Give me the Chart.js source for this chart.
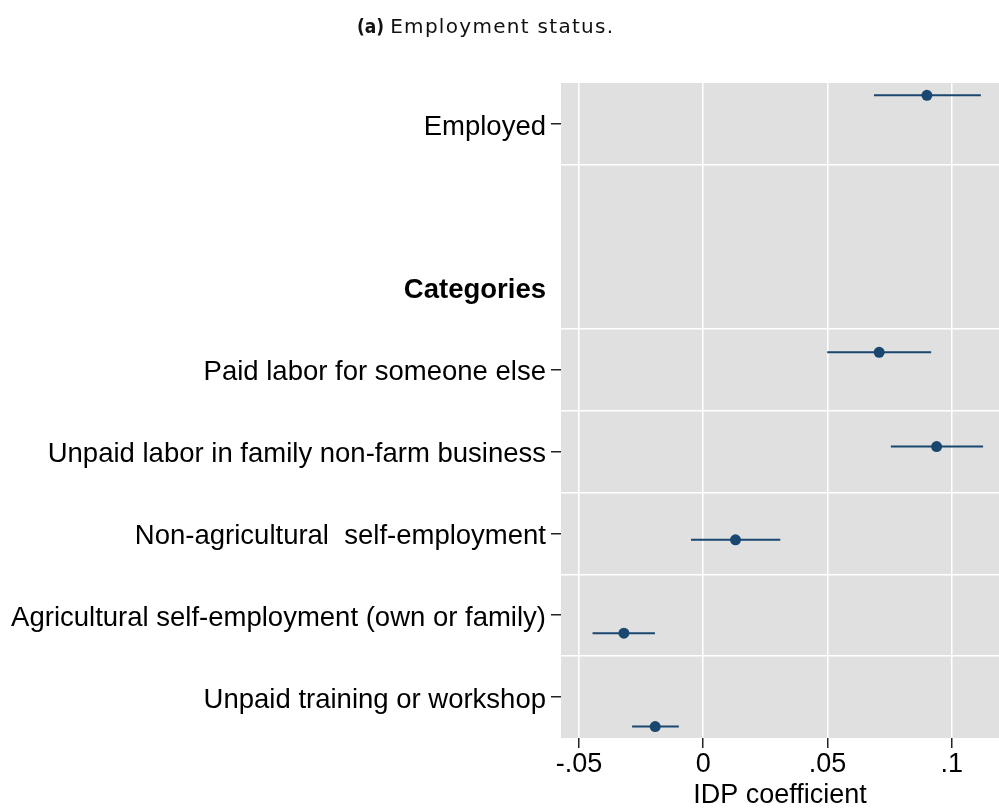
<!DOCTYPE html>
<html>
<head>
<meta charset="utf-8">
<script src="https://cdn.jsdelivr.net/npm/chart.js@4.4.1/dist/chart.umd.min.js"></script>
<style>
  body { margin: 0; background: #fff; overflow: hidden; }
  #wrap { position: relative; width: 999px; height: 809px; }
  #myChart { display: block; }
  #caption {
    position: absolute; left: 357px; top: 16px; line-height: 20px;
    font-family: "DejaVu Sans", sans-serif; font-size: 20px; color: #111;
    letter-spacing: 1.3px; white-space: nowrap;
  }
  #caption b { font-family: "DejaVu Sans Condensed", "DejaVu Sans", sans-serif; font-size: 19px; font-weight: 600; letter-spacing: 0; margin-right: 6px; }
</style>
</head>
<body>
<div id="wrap">
  <div id="caption"><b>(a)</b>Employment status.</div>
  <canvas id="myChart"></canvas>
</div>
<script>
// row labels on the y axis and where they sit
const tickLabels = ['Employed', 'Categories', 'Paid labor for someone else',
    'Unpaid labor in family non-farm business', 'Non-agricultural  self-employment',
    'Agricultural self-employment (own or family)', 'Unpaid training or workshop'];
const tickPos = [1, 3, 4, 5, 6, 7, 8];
const gridPos = [1.5, 3.5, 4.5, 5.5, 6.5, 7.5];

// estimates and 95% CIs
const coef = [0.090, 0.0708, 0.0939, 0.0130, -0.0319, -0.0193];
const ciLow = [0.0687, 0.0499, 0.0755, -0.0049, -0.0445, -0.0286];
const ciHigh = [0.1117, 0.0917, 0.1126, 0.0310, -0.0194, -0.0098];
const markerPos = [0.65, 3.79, 4.94, 6.08, 7.22, 8.36];

const xTicks = [-0.05, 0, 0.05, 0.1];
const xTickLabels = ['-.05', '0', '.05', '.1'];

const navy = '#1a476f';
const ctx = document.getElementById('myChart');

const datasets = [];
coef.forEach((c, i) => {
    datasets.push({
        type: 'line',
        data: [{ x: ciLow[i], y: markerPos[i] }, { x: ciHigh[i], y: markerPos[i] }],
        borderColor: navy,
        borderWidth: 2,
        pointRadius: 0,
        showLine: true
    });
});
datasets.push({
    type: 'scatter',
    data: coef.map((c, i) => ({ x: c, y: markerPos[i] })),
    backgroundColor: navy,
    borderColor: navy,
    borderWidth: 0,
    pointRadius: 5.5
});

const plotBg = {
    id: 'plotBg',
    beforeDraw(chart) {
        const a = chart.chartArea;
        chart.ctx.save();
        chart.ctx.fillStyle = '#e0e0e0';
        chart.ctx.fillRect(a.left, a.top, a.right - a.left, a.bottom - a.top);
        chart.ctx.restore();
    }
};

const family = 'Arial, "Liberation Sans", sans-serif';

new Chart(ctx, {
    data: { datasets },
    plugins: [plotBg],
    options: {
        responsive: true,
        maintainAspectRatio: false,
        animation: false,
        layout: { autoPadding: false, padding: { top: 83, left: 0, right: 0, bottom: 0 } },
        plugins: { legend: { display: false }, tooltip: { enabled: false } },
        scales: {
            x: {
                type: 'linear',
                min: -0.0572,
                max: 0.119,
                afterBuildTicks: s => { s.ticks = xTicks.map(v => ({ value: v })); },
                afterFit: s => { s.height = 71; s.paddingLeft = 0; s.paddingRight = 0; },
                border: { display: false },
                grid: { color: '#ffffff', lineWidth: 1.5, tickColor: '#222', tickLength: 10, tickWidth: 1.5 },
                ticks: {
                    color: '#000', font: { family, size: 27 }, padding: 0, maxRotation: 0,
                    callback: v => xTickLabels[xTicks.indexOf(v)]
                },
                title: {
                    display: true, text: 'IDP coefficient', color: '#000',
                    font: { family, size: 27, lineHeight: 1 }, padding: { top: 0, bottom: 0 }
                }
            },
            y: {
                type: 'linear',
                reverse: true,
                min: 0.5,
                max: 8.5,
                afterBuildTicks: s => {
                    const t = [];
                    for (let v = 0.5; v <= 8.5; v += 0.5) t.push({ value: v });
                    s.ticks = t;
                },
                afterFit: s => { s.width = 561; s.paddingTop = 0; s.paddingBottom = 0; },
                border: { display: false },
                grid: {
                    lineWidth: 1.5,
                    tickLength: 10,
                    tickWidth: 1.5,
                    color: c => gridPos.includes(c.tick.value) ? '#ffffff' : 'rgba(0,0,0,0)',
                    tickColor: c => (tickPos.includes(c.tick.value) && c.tick.value !== 3) ? '#222' : 'rgba(0,0,0,0)'
                },
                ticks: {
                    color: '#000', padding: 5, autoSkip: false, labelOffset: 3,
                    font: c => ({ family, size: 27.5, weight: c.tick && c.tick.value === 3 ? 'bold' : 'normal' }),
                    callback: v => { const i = tickPos.indexOf(v); return i >= 0 ? tickLabels[i] : ''; }
                }
            }
        }
    }
});
</script>
</body>
</html>
